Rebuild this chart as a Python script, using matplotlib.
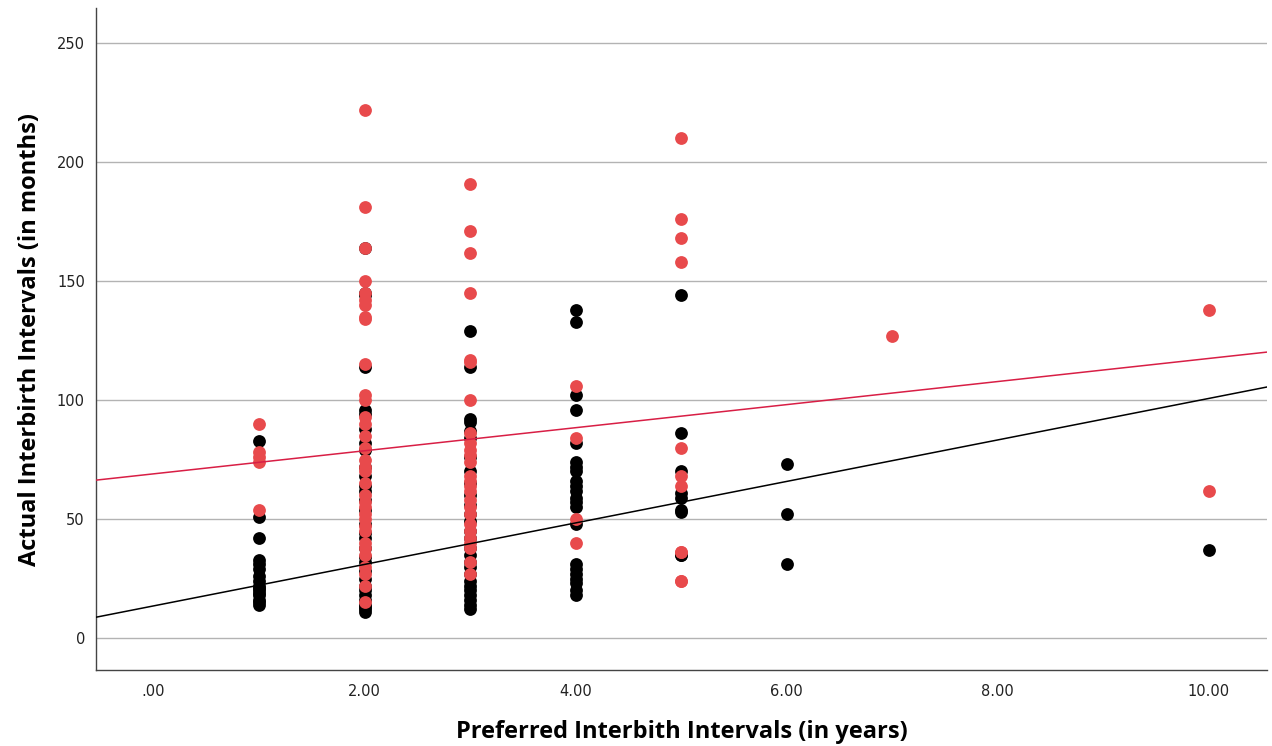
import numpy as np
import matplotlib.pyplot as plt

# Preferred interval (years) -> actual intervals (months), two groups
negro_x = [1] * 16 + [2] * 31 + [3] * 27 + [4] * 22 + [5] * 9 + [6] * 3 + [10]
negro_y = [83, 51, 42, 33, 31, 29, 26, 24, 22, 21, 20, 19, 18, 16, 15, 14,
           164, 145, 144, 114, 96, 94, 88, 82, 79, 72, 68, 64, 62, 58, 54, 48,
           44, 42, 38, 34, 32, 28, 25, 22, 20, 18, 16, 14, 13, 12, 11,
           129, 114, 92, 91, 87, 84, 76, 70, 65, 60, 56, 52, 49, 45, 42, 38,
           35, 32, 30, 27, 24, 22, 20, 18, 16, 14, 12,
           138, 133, 102, 96, 82, 74, 72, 70, 66, 64, 62, 59, 57, 55, 48,
           31, 29, 27, 25, 23, 20, 18,
           144, 86, 70, 61, 59, 54, 53, 35, 35,
           73, 52, 31,
           37]

rojo_x = [1] * 5 + [2] * 34 + [3] * 26 + [4] * 4 + [5] * 11 + [7] + [10] * 2
rojo_y = [90, 78, 76, 74, 54,
          222, 181, 164, 150, 145, 142, 140, 135, 134, 115, 102, 100, 93, 90,
          85, 80, 75, 72, 70, 65, 60, 57, 55, 52, 50, 47, 45, 40, 38, 35, 30,
          27, 22, 15,
          191, 171, 162, 145, 117, 116, 100, 86, 82, 79, 77, 74, 68, 66, 64,
          62, 58, 55, 52, 48, 45, 42, 40, 38, 32, 27,
          106, 84, 50, 40,
          210, 176, 168, 158, 80, 68, 64, 36, 24, 36, 24,
          127,
          138, 62]

# Rectas de ajuste (intercepto, pendiente)
ajuste_negro = (13.5, 8.72)
ajuste_rojo = (69.0, 4.85)

xticks = [0, 2, 4, 6, 8, 10]
xtick_labels = [".00", "2.00", "4.00", "6.00", "8.00", "10.00"]
yticks = [0, 50, 100, 150, 200, 250]

fig = plt.figure(figsize=(12.72, 7.46), dpi=100)
ax = fig.add_axes([0.0755, 0.102, 0.9205, 0.887])

ax.scatter(negro_x, negro_y, s=85, color="black", linewidths=0, zorder=3)
ax.scatter(rojo_x, rojo_y, s=85, color="#e84a4c", linewidths=0, zorder=4)

xlim = (-0.545, 10.55)
xs = np.array(xlim)
ax.plot(xs, ajuste_negro[0] + ajuste_negro[1] * xs, color="black", lw=1.1, zorder=5)
ax.plot(xs, ajuste_rojo[0] + ajuste_rojo[1] * xs, color="#d81e45", lw=1.1, zorder=5)

ax.set_xlim(*xlim)
ax.set_ylim(-13.4, 264.7)
ax.set_xticks(xticks)
ax.set_xticklabels(xtick_labels)
ax.set_yticks(yticks)
ax.yaxis.grid(True, color="#b3b3b3", lw=1)
ax.set_axisbelow(True)
ax.tick_params(length=0, labelsize=10.5, colors="#222222")
ax.tick_params(axis="y", pad=8)
ax.tick_params(axis="x", pad=10)
for lbl in ax.get_xticklabels() + ax.get_yticklabels():
    lbl.set_family("DejaVu Sans")

for s in ["top", "right"]:
    ax.spines[s].set_visible(False)
for s in ["left", "bottom"]:
    ax.spines[s].set_color("#444444")
    ax.spines[s].set_linewidth(1)

fuente = ["Open Sans", "DejaVu Sans"]
ax.set_xlabel("Preferred Interbith Intervals (in years)", fontsize=17,
              fontweight="bold", family=fuente, labelpad=15)
ax.set_ylabel("Actual Interbirth Intervals (in months)", fontsize=17,
              fontweight="bold", family=fuente, labelpad=11)

fig.savefig("out.png", dpi=100)
